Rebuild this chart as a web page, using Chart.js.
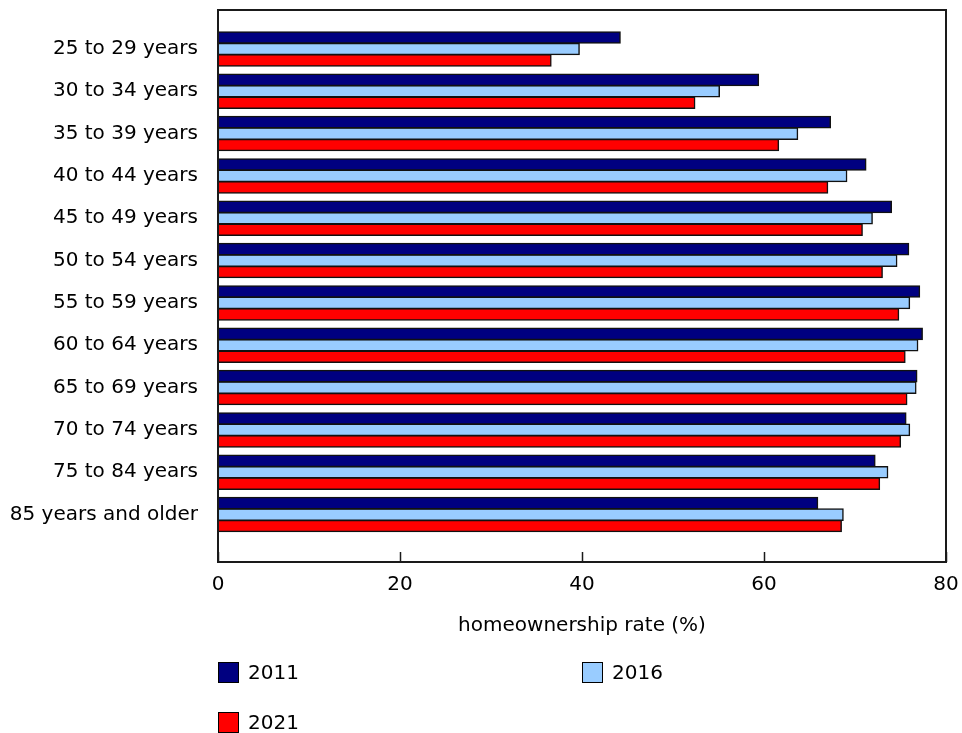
<!DOCTYPE html>
<html>
<head>
<meta charset="utf-8">
<script src="https://cdn.jsdelivr.net/npm/chart.js@4/dist/chart.umd.min.js"></script>
<style>
  html, body { margin: 0; padding: 0; background: #fff; }
  #wrap { position: relative; width: 962px; height: 733px; }
  #c { position: absolute; left: 0; top: 0; }
  .lg { position: absolute; display: flex; align-items: center; font-family: 'DejaVu Sans', Verdana, sans-serif; font-size: 20px; color: #000; white-space: nowrap; }
  .lg .bx { width: 19px; height: 19px; border: 1px solid #000; margin-right: 9px; box-sizing: content-box; }
</style>
</head>
<body>
<div id="wrap">
  <canvas id="c" width="962" height="733"></canvas>
</div>
<script>
const categories = ["25 to 29 years", "30 to 34 years", "35 to 39 years", "40 to 44 years", "45 to 49 years", "50 to 54 years", "55 to 59 years", "60 to 64 years", "65 to 69 years", "70 to 74 years", "75 to 84 years", "85 years and older"];
const seriesNames = ["2011", "2016", "2021"];
const values2011 = [44.2, 59.4, 67.3, 71.2, 74.0, 75.9, 77.1, 77.4, 76.8, 75.6, 72.2, 65.9];
const values2016 = [39.7, 55.1, 63.7, 69.1, 71.9, 74.6, 76.0, 76.9, 76.7, 76.0, 73.6, 68.7];
const values2021 = [36.6, 52.4, 61.6, 67.0, 70.8, 73.0, 74.8, 75.5, 75.7, 75.0, 72.7, 68.5];
const xTicks = [0, 20, 40, 60, 80];
const xTitle = "homeownership rate (%)";

const colors = ["#000080", "#99ccff", "#ff0000"];
const FONT = "'DejaVu Sans', Verdana, sans-serif";

Chart.defaults.color = "#000";
Chart.defaults.font.family = FONT;
Chart.defaults.font.size = 20;

function toPoints(vals) { return vals.map((v, i) => ({ x: v, y: i })); }

const frameAndTicks = {
  id: 'frameAndTicks',
  afterDraw(chart) {
    const ctx = chart.ctx, a = chart.chartArea, xs = chart.scales.x;
    ctx.save();
    ctx.strokeStyle = "#1a1a1a";
    ctx.lineWidth = 1.5;
    xs.ticks.forEach((t, i) => {
      const px = Math.round(xs.getPixelForTick(i)) + 0.5;
      ctx.beginPath();
      ctx.moveTo(px, a.bottom);
      ctx.lineTo(px, a.bottom - 10);
      ctx.stroke();
    });
    ctx.lineWidth = 2;
    ctx.strokeRect(a.left, a.top, a.right - a.left, a.bottom - a.top);
    ctx.restore();
  }
};

const datasetsVals = [values2011, values2016, values2021];
const chart = new Chart(document.getElementById('c'), {
  type: 'bar',
  data: {
    datasets: seriesNames.map((n, k) => ({
      label: n,
      data: toPoints(datasetsVals[k]),
      backgroundColor: colors[k],
      borderColor: "#111",
      borderWidth: 1.5,
      inflateAmount: 0.6,
      categoryPercentage: 0.81,
      barPercentage: 1.0
    }))
  },
  options: {
    indexAxis: 'y',
    responsive: false,
    animation: false,
    layout: { padding: { left: 0, right: 16, top: 10, bottom: 91 } },
    plugins: { legend: { display: false }, tooltip: { enabled: false } },
    scales: {
      y: {
        type: 'linear',
        reverse: true,
        bounds: 'data',
        offset: false,
        min: -0.92,
        max: 12.12,
        grid: { display: false, drawTicks: false, offset: false },
        border: { display: false },
        afterBuildTicks: (s) => { s.ticks = categories.map((c, i) => ({ value: i })); },
        ticks: {
          padding: 20,
          autoSkip: false,
          callback: (v) => categories[v] !== undefined ? categories[v] : ''
        },
        afterFit: (s) => { s.width = 218; s.paddingTop = 0; s.paddingBottom = 0; }
      },
      x: {
        type: 'linear',
        min: 0,
        max: 80,
        grid: { display: false, drawTicks: false },
        border: { display: false },
        afterBuildTicks: (s) => { s.ticks = xTicks.map(v => ({ value: v })); },
        ticks: { padding: 11, maxRotation: 0 },
        title: { display: true, text: xTitle, padding: { top: 0, bottom: 4 } },
        afterFit: (s) => { s.height = 80; s.paddingLeft = 0; s.paddingRight = 0; }
      }
    }
  },
  plugins: [frameAndTicks]
});

// HTML legend built from datasets
const wrap = document.getElementById('wrap');
const a = chart.chartArea;
chart.data.datasets.forEach((ds, i) => {
  const d = document.createElement('div');
  d.className = 'lg';
  d.style.left = (a.left + (i % 2) * (a.right - a.left) / 2) + 'px';
  d.style.top = (660 + Math.floor(i / 2) * 50) + 'px';
  const b = document.createElement('span');
  b.className = 'bx';
  b.style.background = ds.backgroundColor;
  const t = document.createElement('span');
  t.textContent = ds.label;
  d.appendChild(b); d.appendChild(t);
  wrap.appendChild(d);
});
</script>
</body>
</html>
